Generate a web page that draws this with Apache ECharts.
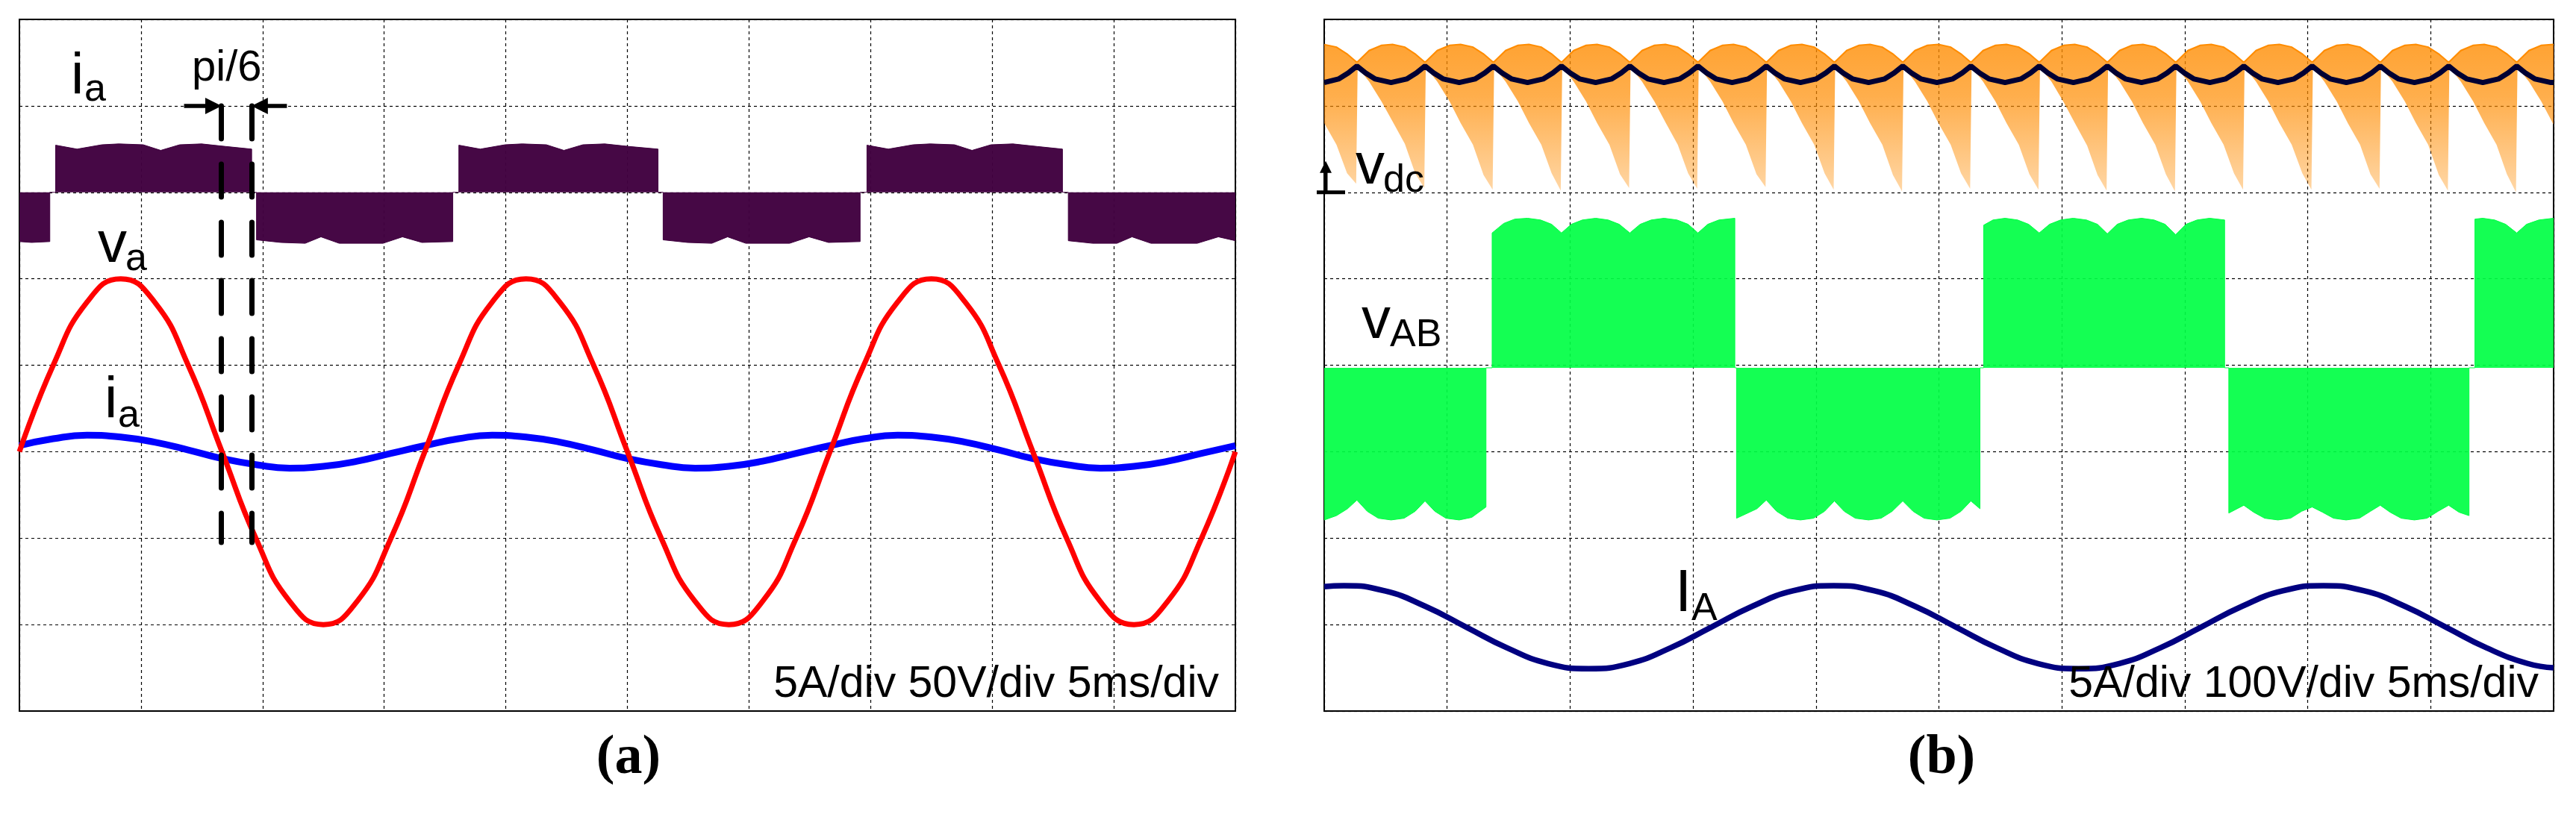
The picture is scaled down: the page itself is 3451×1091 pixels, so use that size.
<!DOCTYPE html>
<html>
<head>
<meta charset="utf-8">
<script src="https://cdn.jsdelivr.net/npm/echarts@6/dist/echarts.min.js"></script>
<style>
html, body { margin: 0; padding: 0; background: #fff; }
#main { width: 3451px; height: 1091px; }
</style>
</head>
<body>
<div id="main"></div>
<script>
// both panels: x in ms (5 ms/div, 10 div), y in divisions (-4 .. 4)

// ---- panel (a) ----
var sampleTimeA = [0, 1.39, 2.78, 4.17, 5.56, 6.94, 8.33, 9.72, 11.11, 12.5, 13.89, 15.28,
  16.67, 18.06, 19.44, 20.83, 22.22, 23.61, 25.0, 26.39, 27.78, 29.17, 30.56, 31.94,
  33.33, 34.72, 36.11, 37.5, 38.89, 40.28, 41.67, 43.06, 44.44, 45.83, 47.22, 48.61, 50.0];
var vaValues = [-1, 0, 0.73, 1, 0.73, 0, -1, -2, -2.73, -3, -2.73, -2,
  -1, 0, 0.73, 1, 0.73, 0, -1, -2, -2.73, -3, -2.73, -2,
  -1, 0, 0.73, 1, 0.73, 0, -1, -2, -2.73, -3, -2.73, -2, -1];
var iaValues = [-0.93, -0.85, -0.81, -0.83, -0.89, -0.98, -1.08, -1.15, -1.19, -1.17, -1.11, -1.02,
  -0.93, -0.85, -0.81, -0.83, -0.89, -0.98, -1.08, -1.15, -1.19, -1.17, -1.11, -1.02,
  -0.93, -0.85, -0.81, -0.83, -0.89, -0.98, -1.08, -1.15, -1.19, -1.17, -1.11, -1.02, -0.93];
// chopped current envelope, zero level at 2 div
var iaPwmBase = 2;
var iaPwm = [
  [0, 1.43], [0.5, 1.42], [1.25, 1.43], [1.25, 2],
  [1.49, 2], [1.49, 2.545], [2.37, 2.50], [3.39, 2.55], [4.09, 2.56], [5.09, 2.55], [5.81, 2.485],
  [6.59, 2.55], [7.49, 2.56], [8.49, 2.53], [9.55, 2.50], [9.55, 2],
  [9.75, 2], [9.75, 1.45], [10.75, 1.42], [11.75, 1.41], [12.4, 1.485], [13.15, 1.41], [14.95, 1.41],
  [15.75, 1.485], [16.55, 1.42], [17.82, 1.43], [17.82, 2],
  [18.07, 2], [18.07, 2.545], [18.95, 2.50], [19.97, 2.55], [20.67, 2.56], [21.67, 2.55], [22.39, 2.485],
  [23.17, 2.55], [24.07, 2.56], [25.07, 2.53], [26.26, 2.50], [26.26, 2],
  [26.47, 2], [26.47, 1.45], [27.47, 1.42], [28.47, 1.41], [29.12, 1.485], [29.87, 1.41], [31.67, 1.41],
  [32.47, 1.485], [33.27, 1.42], [34.57, 1.43], [34.57, 2],
  [34.85, 2], [34.85, 2.545], [35.73, 2.50], [36.75, 2.55], [37.45, 2.56], [38.45, 2.55], [39.17, 2.485],
  [39.95, 2.55], [40.85, 2.56], [41.85, 2.53], [42.89, 2.50], [42.89, 2],
  [43.13, 2], [43.13, 1.44], [44.13, 1.41], [45.13, 1.41], [45.75, 1.485], [46.53, 1.41], [48.43, 1.41],
  [49.3, 1.485], [50, 1.44]
];
var phaseMarks = [8.31, 9.55];

// ---- panel (b) ----
var sampleTimeB = [0, 0.8, 2.46, 4.12, 5.78, 7.44, 9.1, 10.76, 12.42, 14.08, 15.74, 17.4, 19.06,
  20.72, 22.38, 24.04, 25.7, 27.36, 29.02, 30.68, 32.34, 34.0, 35.66, 37.32, 38.98,
  40.64, 42.3, 43.96, 45.62, 47.28, 48.94, 50];
var IAValues = [-2.56, -2.55, -2.61, -2.79, -3.03, -3.27, -3.45, -3.51, -3.45, -3.27, -3.03, -2.79, -2.61,
  -2.55, -2.61, -2.79, -3.03, -3.27, -3.45, -3.51, -3.45, -3.27, -3.03, -2.79, -2.61,
  -2.55, -2.61, -2.79, -3.03, -3.27, -3.45, -3.50];
// dc link: [t, lower edge, upper edge] of the switched band
var vdcEnvelope = [
  [0.00, 2.80, 3.71], [0.50, 2.55, 3.68], [0.93, 2.22, 3.60], [1.30, 2.10, 3.51], [1.36, 3.45, 3.51],
  [1.83, 3.28, 3.64], [2.33, 3.05, 3.70], [2.78, 2.82, 3.71], [3.28, 2.56, 3.68], [3.70, 2.22, 3.60],
  [4.07, 2.05, 3.51], [4.13, 3.45, 3.51], [4.60, 3.28, 3.64], [5.10, 3.05, 3.70], [5.55, 2.80, 3.71],
  [6.05, 2.55, 3.68], [6.48, 2.20, 3.60], [6.85, 2.03, 3.51], [6.91, 3.45, 3.51], [7.38, 3.28, 3.64],
  [7.88, 3.05, 3.70], [8.33, 2.80, 3.71], [8.83, 2.55, 3.68], [9.25, 2.22, 3.60], [9.62, 2.02, 3.51],
  [9.68, 3.45, 3.51], [10.15, 3.28, 3.64], [10.65, 3.05, 3.70], [11.10, 2.80, 3.71], [11.60, 2.55, 3.68],
  [12.03, 2.21, 3.60], [12.40, 2.05, 3.51], [12.46, 3.45, 3.51], [12.93, 3.28, 3.64], [13.43, 3.05, 3.70],
  [13.88, 2.81, 3.71], [14.38, 2.55, 3.68], [14.80, 2.22, 3.60], [15.17, 2.04, 3.51], [15.23, 3.45, 3.51],
  [15.70, 3.28, 3.64], [16.20, 3.05, 3.70], [16.65, 2.80, 3.71], [17.15, 2.55, 3.68], [17.58, 2.21, 3.60],
  [17.95, 2.06, 3.51], [18.01, 3.45, 3.51], [18.48, 3.28, 3.64], [18.98, 3.05, 3.70], [19.43, 2.80, 3.71],
  [19.93, 2.55, 3.68], [20.35, 2.22, 3.60], [20.72, 2.03, 3.51], [20.78, 3.45, 3.51], [21.25, 3.28, 3.64],
  [21.75, 3.05, 3.70], [22.20, 2.80, 3.71], [22.70, 2.55, 3.68], [23.13, 2.20, 3.60], [23.50, 2.01, 3.51],
  [23.56, 3.45, 3.51], [24.03, 3.28, 3.64], [24.53, 3.05, 3.70], [24.98, 2.80, 3.71], [25.48, 2.55, 3.68],
  [25.90, 2.22, 3.60], [26.27, 2.04, 3.51], [26.33, 3.45, 3.51], [26.80, 3.28, 3.64], [27.30, 3.05, 3.70],
  [27.75, 2.80, 3.71], [28.25, 2.55, 3.68], [28.68, 2.21, 3.60], [29.05, 2.03, 3.51], [29.11, 3.45, 3.51],
  [29.58, 3.28, 3.64], [30.08, 3.04, 3.70], [30.53, 2.80, 3.71], [31.03, 2.54, 3.68], [31.45, 2.20, 3.60],
  [31.82, 2.02, 3.51], [31.88, 3.45, 3.51], [32.35, 3.28, 3.64], [32.85, 3.05, 3.70], [33.30, 2.80, 3.71],
  [33.80, 2.55, 3.68], [34.23, 2.21, 3.60], [34.60, 2.01, 3.51], [34.66, 3.45, 3.51], [35.13, 3.28, 3.64],
  [35.63, 3.05, 3.70], [36.08, 2.80, 3.71], [36.58, 2.55, 3.68], [37.00, 2.22, 3.60], [37.37, 2.03, 3.51],
  [37.43, 3.45, 3.51], [37.90, 3.28, 3.64], [38.40, 3.05, 3.70], [38.85, 2.80, 3.71], [39.35, 2.55, 3.68],
  [39.78, 2.22, 3.60], [40.15, 2.03, 3.51], [40.21, 3.45, 3.51], [40.68, 3.28, 3.64], [41.18, 3.05, 3.70],
  [41.63, 2.80, 3.71], [42.13, 2.55, 3.68], [42.55, 2.21, 3.60], [42.92, 2.04, 3.51], [42.98, 3.45, 3.51],
  [43.45, 3.28, 3.64], [43.95, 3.05, 3.70], [44.40, 2.80, 3.71], [44.90, 2.55, 3.68], [45.33, 2.20, 3.60],
  [45.70, 2.02, 3.51], [45.76, 3.45, 3.51], [46.23, 3.28, 3.64], [46.73, 3.05, 3.70], [47.18, 2.80, 3.71],
  [47.68, 2.55, 3.68], [48.10, 2.21, 3.60], [48.47, 2.00, 3.51], [48.53, 3.45, 3.51], [49.00, 3.28, 3.64],
  [49.50, 3.05, 3.70], [50.00, 2.78, 3.71]
];
// averaged dc link voltage (dark line with cusps)
var vdcMean = [
  [0, 3.27],
  [0.58, 3.31], [0.98, 3.38], [1.33, 3.46], [1.68, 3.38], [2.08, 3.31], [2.72, 3.27],
  [3.35, 3.31], [3.75, 3.38], [4.10, 3.46], [4.45, 3.38], [4.85, 3.31], [5.49, 3.27],
  [6.13, 3.31], [6.53, 3.38], [6.88, 3.46], [7.23, 3.38], [7.63, 3.31], [8.27, 3.27],
  [8.90, 3.31], [9.30, 3.38], [9.65, 3.46], [10.00, 3.38], [10.40, 3.31], [11.04, 3.27],
  [11.68, 3.31], [12.08, 3.38], [12.43, 3.46], [12.78, 3.38], [13.18, 3.31], [13.82, 3.27],
  [14.45, 3.31], [14.85, 3.38], [15.20, 3.46], [15.55, 3.38], [15.95, 3.31], [16.59, 3.27],
  [17.23, 3.31], [17.63, 3.38], [17.98, 3.46], [18.33, 3.38], [18.73, 3.31], [19.37, 3.27],
  [20.00, 3.31], [20.40, 3.38], [20.75, 3.46], [21.10, 3.38], [21.50, 3.31], [22.14, 3.27],
  [22.78, 3.31], [23.18, 3.38], [23.53, 3.46], [23.88, 3.38], [24.28, 3.31], [24.92, 3.27],
  [25.55, 3.31], [25.95, 3.38], [26.30, 3.46], [26.65, 3.38], [27.05, 3.31], [27.69, 3.27],
  [28.33, 3.31], [28.73, 3.38], [29.08, 3.46], [29.43, 3.38], [29.83, 3.31], [30.47, 3.27],
  [31.10, 3.31], [31.50, 3.38], [31.85, 3.46], [32.20, 3.38], [32.60, 3.31], [33.24, 3.27],
  [33.88, 3.31], [34.28, 3.38], [34.63, 3.46], [34.98, 3.38], [35.38, 3.31], [36.02, 3.27],
  [36.65, 3.31], [37.05, 3.38], [37.40, 3.46], [37.75, 3.38], [38.15, 3.31], [38.79, 3.27],
  [39.43, 3.31], [39.83, 3.38], [40.18, 3.46], [40.53, 3.38], [40.93, 3.31], [41.57, 3.27],
  [42.20, 3.31], [42.60, 3.38], [42.95, 3.46], [43.30, 3.38], [43.70, 3.31], [44.34, 3.27],
  [44.98, 3.31], [45.38, 3.38], [45.73, 3.46], [46.08, 3.38], [46.48, 3.31], [47.12, 3.27],
  [47.75, 3.31], [48.15, 3.38], [48.50, 3.46], [48.85, 3.38], [49.25, 3.31], [49.89, 3.27],
  [50, 3.27]
];
// line voltage envelope, zero level at -0.03 div
var vabBase = -0.03;
var vabPwm = [
  [0, -1.79], [0.5, -1.74], [0.95, -1.66], [1.33, -1.56], [1.75, -1.69], [2.2, -1.77], [2.72, -1.79],
  [3.25, -1.77], [3.7, -1.69], [4.10, -1.57], [4.5, -1.69], [4.95, -1.77], [5.49, -1.79], [6.0, -1.76],
  [6.58, -1.64], [6.58, -0.03],
  [6.83, -0.03], [6.83, 1.53], [7.3, 1.64], [7.75, 1.69], [8.27, 1.70], [8.8, 1.68], [9.25, 1.63],
  [9.65, 1.53], [10.05, 1.63], [10.5, 1.68], [11.04, 1.70], [11.55, 1.68], [12.0, 1.63], [12.43, 1.53],
  [12.85, 1.63], [13.3, 1.68], [13.82, 1.70], [14.35, 1.68], [14.8, 1.63], [15.2, 1.53], [15.6, 1.63],
  [16.05, 1.68], [16.7, 1.70], [16.7, -0.03],
  [16.77, -0.03], [16.77, -1.77], [17.15, -1.72], [17.6, -1.66], [17.98, -1.56], [18.4, -1.69],
  [18.85, -1.77], [19.37, -1.79], [19.9, -1.77], [20.35, -1.69], [20.75, -1.57], [21.15, -1.69],
  [21.6, -1.77], [22.14, -1.79], [22.65, -1.77], [23.1, -1.69], [23.53, -1.57], [23.95, -1.69],
  [24.4, -1.77], [24.92, -1.79], [25.45, -1.77], [25.9, -1.69], [26.3, -1.57], [26.67, -1.66], [26.67, -0.03],
  [26.82, -0.03], [26.82, 1.62], [27.2, 1.68], [27.69, 1.70], [28.2, 1.68], [28.65, 1.63], [29.08, 1.53],
  [29.5, 1.63], [29.95, 1.68], [30.46, 1.70], [31.0, 1.68], [31.45, 1.63], [31.85, 1.52], [32.25, 1.63],
  [32.7, 1.68], [33.24, 1.70], [33.75, 1.68], [34.2, 1.63], [34.63, 1.51], [35.05, 1.63], [35.5, 1.68],
  [36.01, 1.70], [36.62, 1.68], [36.62, -0.03],
  [36.79, -0.03], [36.79, -1.71], [37.40, -1.62], [37.8, -1.70], [38.25, -1.77], [38.79, -1.79],
  [39.3, -1.77], [39.75, -1.69], [40.18, -1.64], [40.6, -1.70], [41.05, -1.77], [41.56, -1.79],
  [42.1, -1.77], [42.55, -1.69], [42.95, -1.62], [43.35, -1.70], [43.8, -1.77], [44.34, -1.79],
  [44.85, -1.77], [45.3, -1.69], [45.73, -1.62], [46.15, -1.70], [46.56, -1.74], [46.56, -0.03],
  [46.8, -0.03], [46.8, 1.69], [47.12, 1.70], [47.6, 1.68], [48.05, 1.63], [48.5, 1.53], [48.9, 1.63],
  [49.4, 1.68], [50, 1.70]
];

function pairs(xs, ys) {
  return xs.map(function (x, i) { return [x, ys[i]]; });
}

var SANS = '"Liberation Sans", Arial, sans-serif';
var gridLine = { show: true, lineStyle: { color: '#000', width: 1.2, type: [4, 4] } };

function xAx(i) {
  return { type: 'value', gridIndex: i, min: 0, max: 50, interval: 5,
    axisLine: { show: false }, axisTick: { show: false }, axisLabel: { show: false }, splitLine: gridLine };
}
function yAx(i) {
  return { type: 'value', gridIndex: i, min: -4, max: 4, interval: 1,
    axisLine: { show: false }, axisTick: { show: false }, axisLabel: { show: false }, splitLine: gridLine };
}

var chart = echarts.init(document.getElementById('main'));

var option = {
  animation: false,
  backgroundColor: '#fff',
  grid: [
    { left: 26, top: 26, width: 1629, height: 927, show: true, borderColor: '#000', borderWidth: 2 },
    { left: 1774, top: 26, width: 1647, height: 927, show: true, borderColor: '#000', borderWidth: 2 }
  ],
  xAxis: [xAx(0), xAx(1)],
  yAxis: [yAx(0), yAx(1)],
  series: [
    {
      name: 'ia chopped', type: 'line', xAxisIndex: 0, yAxisIndex: 0, data: iaPwm,
      symbol: 'none', silent: true,
      lineStyle: { color: '#40003f', width: 1 },
      areaStyle: { origin: iaPwmBase, color: '#40003f', opacity: 0.97 },
      markLine: {
        silent: true, symbol: 'none', label: { show: false },
        lineStyle: { color: '#000', width: 7, type: [44, 34], cap: 'round' },
        data: phaseMarks.map(function (t) { return [{ coord: [t, 3.0] }, { coord: [t, -2.05] }]; })
      }
    },
    {
      name: 'ia', type: 'line', xAxisIndex: 0, yAxisIndex: 0, data: pairs(sampleTimeA, iaValues),
      symbol: 'none', smooth: 0.5, silent: true,
      lineStyle: { color: '#0000ff', width: 9 },
      markLine: {
        silent: true, symbol: ['none', 'triangle'], symbolSize: 22, label: { show: false },
        lineStyle: { color: '#000', width: 5.5, type: 'solid' },
        data: [
          [{ coord: [6.77, 3.0] }, { coord: [phaseMarks[0] - 0.33, 3.0] }],
          [{ coord: [11.0, 3.0] }, { coord: [phaseMarks[1] + 0.33, 3.0] }]
        ]
      }
    },
    {
      name: 'va', type: 'line', xAxisIndex: 0, yAxisIndex: 0, data: pairs(sampleTimeA, vaValues),
      symbol: 'none', smooth: 0.5, silent: true,
      lineStyle: { color: '#ff0000', width: 7 }
    },
    {
      // switched dc-link band between lower and upper edge
      name: 'vdc', type: 'custom', xAxisIndex: 1, yAxisIndex: 1, data: [[0, 3]],
      silent: true, clip: true,
      renderItem: function (params, api) {
        var up = vdcEnvelope.map(function (r) { return api.coord([r[0], r[2]]); });
        var lo = vdcEnvelope.map(function (r) { return api.coord([r[0], r[1]]); }).reverse();
        return {
          type: 'group',
          children: [
            {
              type: 'polygon', shape: { points: up.concat(lo) },
              style: {
                fill: new echarts.graphic.LinearGradient(0, 0, 0, 1, [
                  { offset: 0, color: 'rgba(255,140,0,0.8)' },
                  { offset: 0.35, color: 'rgba(255,140,0,0.7)' },
                  { offset: 1, color: 'rgba(255,140,0,0.35)' }
                ])
              }
            },
            { type: 'polyline', shape: { points: up }, style: { stroke: '#ff8c00', lineWidth: 2, fill: null } }
          ]
        };
      }
    },
    {
      name: 'vdc mean', type: 'line', xAxisIndex: 1, yAxisIndex: 1, data: vdcMean,
      symbol: 'none', silent: true,
      lineStyle: { color: '#000033', width: 7 }
    },
    {
      name: 'vAB', type: 'line', xAxisIndex: 1, yAxisIndex: 1, data: vabPwm,
      symbol: 'none', silent: true,
      lineStyle: { color: '#00ff44', width: 1 },
      areaStyle: { origin: vabBase, color: '#00ff44', opacity: 0.92 }
    },
    {
      name: 'IA', type: 'line', xAxisIndex: 1, yAxisIndex: 1, data: pairs(sampleTimeB, IAValues),
      symbol: 'none', smooth: 0.5, silent: true,
      lineStyle: { color: '#000080', width: 7.5 }
    }
  ]
};
chart.setOption(option);

// labels
function txt(x, y, s, size, extra) {
  var st = { text: s, fontSize: size, fontFamily: SANS, fill: '#000', align: 'left', verticalAlign: 'middle' };
  for (var k in extra || {}) st[k] = extra[k];
  return { type: 'text', x: x, y: y, silent: true, z: 100, style: st };
}
var g0 = chart.convertToPixel({ xAxisIndex: 1, yAxisIndex: 1 }, [0, 2]);
var gx = g0[0] + 2, gy = g0[1];
var graphics = [
  txt(95, 104, 'i', 78), txt(113, 121, 'a', 52),
  txt(257, 92, 'pi/6', 58),
  txt(131, 329, 'v', 78), txt(168, 348, 'a', 52),
  txt(140, 538, 'i', 78), txt(158, 558, 'a', 52),
  txt(1633, 918, '5A/div 50V/div 5ms/div', 59, { align: 'right' }),
  txt(1816, 224, 'v', 78), txt(1853, 243, 'dc', 52),
  txt(1824, 431, 'v', 78), txt(1862, 450, 'AB', 52),
  txt(2244, 797, 'I', 80), txt(2266, 817, 'A', 52),
  txt(3401, 918, '5A/div 100V/div 5ms/div', 59, { align: 'right' }),
  txt(842, 1017, '(a)', 74, { align: 'center', fontFamily: '"Liberation Serif", "Times New Roman", serif', fontWeight: 'bold' }),
  txt(2601, 1017, '(b)', 74, { align: 'center', fontFamily: '"Liberation Serif", "Times New Roman", serif', fontWeight: 'bold' }),
  // ground marker of the dc-link trace
  { type: 'line', silent: true, z: 100, shape: { x1: gx - 12, y1: gy, x2: gx + 26, y2: gy }, style: { stroke: '#000', lineWidth: 5 } },
  { type: 'line', silent: true, z: 100, shape: { x1: gx, y1: gy, x2: gx, y2: gy - 30 }, style: { stroke: '#000', lineWidth: 5 } },
  { type: 'polygon', silent: true, z: 100, shape: { points: [[gx - 8, gy - 26], [gx + 8, gy - 26], [gx, gy - 42]] }, style: { fill: '#000' } }
];
chart.setOption({ graphic: graphics });
</script>
</body>
</html>
